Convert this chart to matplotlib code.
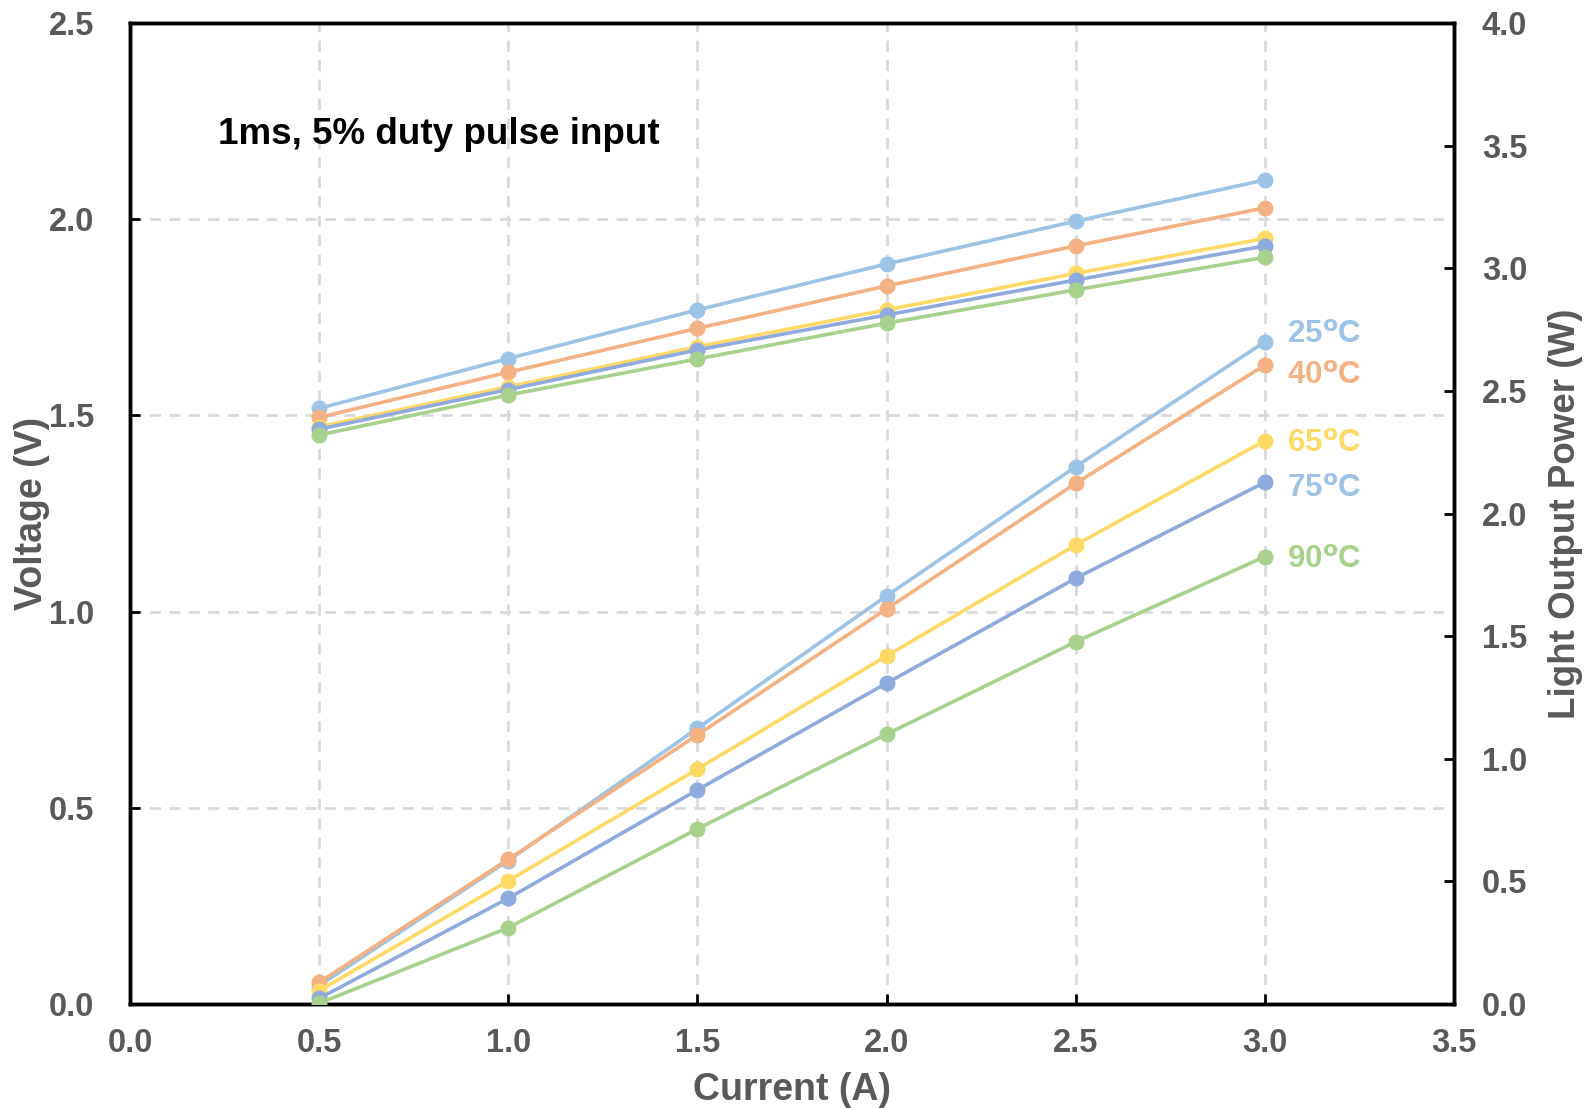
import matplotlib
matplotlib.use("Agg")
import matplotlib.pyplot as plt

plt.rcParams['font.family'] = ['Liberation Sans', 'DejaVu Sans']

current = [0.5, 1.0, 1.5, 2.0, 2.5, 3.0]
temps = ["25", "40", "65", "75", "90"]

voltage_25 = [1.518, 1.645, 1.769, 1.886, 1.995, 2.100]
voltage_40 = [1.495, 1.610, 1.722, 1.830, 1.932, 2.029]
voltage_65 = [1.471, 1.573, 1.675, 1.769, 1.862, 1.951]
voltage_75 = [1.465, 1.566, 1.667, 1.756, 1.845, 1.932]
voltage_90 = [1.450, 1.552, 1.644, 1.735, 1.820, 1.903]

power_25 = [0.075, 0.585, 1.124, 1.664, 2.191, 2.700]
power_40 = [0.088, 0.590, 1.097, 1.611, 2.123, 2.605]
power_65 = [0.054, 0.502, 0.958, 1.419, 1.872, 2.297]
power_75 = [0.023, 0.431, 0.873, 1.308, 1.736, 2.127]
power_90 = [0.003, 0.311, 0.714, 1.100, 1.477, 1.824]

x_ticks = [0.0, 0.5, 1.0, 1.5, 2.0, 2.5, 3.0, 3.5]
v_ticks = [0.0, 0.5, 1.0, 1.5, 2.0, 2.5]
p_ticks = [0.0, 0.5, 1.0, 1.5, 2.0, 2.5, 3.0, 3.5, 4.0]

voltages = [voltage_25, voltage_40, voltage_65, voltage_75, voltage_90]
powers = [power_25, power_40, power_65, power_75, power_90]
colors = ["#9DC3E6", "#F4B183", "#FFD966", "#8FAADC", "#A9D18E"]
label_colors = ["#9DC3E6", "#F4B183", "#FFD966", "#9DC3E6", "#A9D18E"]
label_dy = [7, -11, -3, -7, -3]

grey = "#595959"
fig = plt.figure(figsize=(15.92, 11.08), dpi=100)
ax = fig.add_axes([0.0817, 0.0939, 0.9133 - 0.0817, 0.9792 - 0.0939])
ax2 = ax.twinx()

ax.set_xlim(0, 3.5)
ax.set_ylim(0, 2.5)
ax2.set_ylim(0, 4.0)

# grid
for xv in x_ticks[1:-1]:
    ax.axvline(xv, color="#D9D9D9", lw=2, ls=(0, (4, 3)), zorder=0)
for yv in v_ticks[1:-1]:
    ax.axhline(yv, color="#D9D9D9", lw=2, ls=(0, (4, 3)), zorder=0)

for v, c in zip(voltages, colors):
    ax.plot(current, v, color=c, lw=2.6, marker="o", ms=10.5, zorder=3)

for p, c in zip(powers, colors):
    ax2.plot(current, p, color=c, lw=2.6, marker="o", ms=10.5, zorder=3)

for t, p, c, dy in zip(temps, powers, label_colors, label_dy):
    ax2.annotate(t + r"$^{\mathbf{o}}$C", xy=(current[-1], p[-1]), xytext=(22, dy),
                 textcoords="offset pixels", ha="left", va="center",
                 color=c, fontsize=22.5, fontweight="bold")

ax.text(0.233, 2.217, "1ms, 5% duty pulse input", fontsize=26.5, fontweight="bold",
        color="black", ha="left", va="center")

ax.set_xticks(x_ticks)
ax.set_xticklabels([f"{t:.1f}" for t in x_ticks])
ax.set_yticks(v_ticks)
ax.set_yticklabels([f"{t:.1f}" for t in v_ticks])
ax2.set_yticks(p_ticks)
ax2.set_yticklabels([f"{t:.1f}" for t in p_ticks])

for a in (ax, ax2):
    a.tick_params(axis="both", labelsize=23.5, colors=grey, direction="in", length=7, width=2)
    for lbl in a.get_xticklabels() + a.get_yticklabels():
        lbl.set_fontweight("bold")
    for s in a.spines.values():
        s.set_linewidth(2.5)
        s.set_color("black")
ax.tick_params(axis="x", pad=17)
ax.tick_params(axis="y", pad=26)
ax2.tick_params(axis="y", pad=20)
ax.tick_params(axis="both", color="black")
ax2.tick_params(axis="y", color="black")

ax.set_xlabel("Current (A)", fontsize=27, fontweight="bold", color=grey, labelpad=10)
ax.set_ylabel("Voltage (V)", fontsize=27, fontweight="bold", color=grey, labelpad=-1)
ax2.set_ylabel("Light Output Power (W)", fontsize=26.5, fontweight="bold", color=grey, labelpad=15)

fig.savefig("out.png", dpi=100)
